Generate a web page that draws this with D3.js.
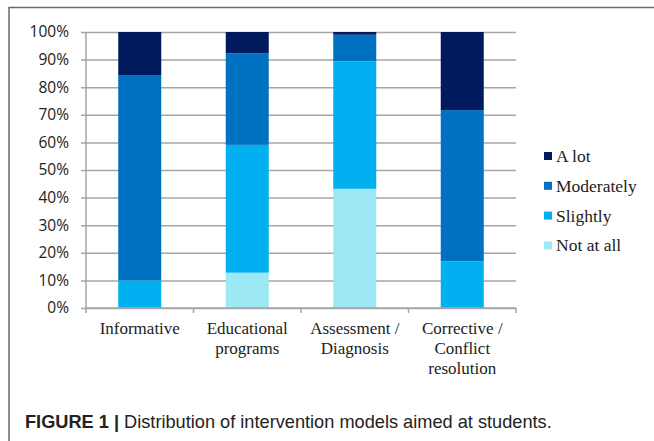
<!DOCTYPE html>
<html>
<head>
<meta charset="utf-8">
<script src="https://cdn.jsdelivr.net/npm/d3@7"></script>
<style>
  body { margin: 0; background: #fff; }
  .tick text { font-family: "Open Sans", sans-serif; font-size: 15.5px; fill: #222; }
  .cat { font-family: "Liberation Serif", serif; font-size: 17px; fill: #222; }
  .leg { font-family: "Liberation Serif", serif; font-size: 17.5px; fill: #222; }
  .cap { font-family: "Liberation Sans", Arial, sans-serif; font-size: 18.2px; fill: #222; }
</style>
</head>
<body>
<svg id="chart" width="654" height="441"></svg>
<script>
(function () {
    // categories and series (percent of students)
    var categories = ["Informative", "Educational programs", "Assessment / Diagnosis", "Corrective / Conflict resolution"]
    var catLines = [["Informative"], ["Educational", "programs"], ["Assessment /", "Diagnosis"], ["Corrective /", "Conflict", "resolution"]]
    var seriesNames = ["Not at all", "Slightly", "Moderately", "A lot"]
    var notAtAll = [0, 12.8, 43.2, 0]
    var slightly = [10, 46.3, 46.2, 16.9]
    var moderately = [74.4, 33.2, 9.6, 54.8]
    var aLot = [15.6, 7.7, 1.0, 28.3]
    var yTicks = [0, 10, 20, 30, 40, 50, 60, 70, 80, 90, 100]
    var colors = ["#9ce8f4", "#00b0f0", "#0070c0", "#001a5e"]

    var svg = d3.select("#chart")

    // frame lines (top + left)
    svg.append("path")
        .attr("d", "M9,441 V7.5 H654")
        .attr("fill", "none")
        .attr("stroke", "#6a6a6a")
        .attr("stroke-width", 1.5)

    var left = 86, right = 516, top = 32, bottom = 308

    var x = d3.scaleBand()
        .domain(categories)
        .range([left, right])
        .paddingInner(0.6)
        .paddingOuter(0.3)

    var y = d3.scaleLinear()
        .domain([0, 100])
        .range([bottom, top])

    // build rows for stack
    var rows = categories.map(function (c, i) {
        return { cat: c, "Not at all": notAtAll[i], "Slightly": slightly[i], "Moderately": moderately[i], "A lot": aLot[i] }
    })
    var stack = d3.stack().keys(seriesNames)(rows)

    var color = d3.scaleOrdinal().domain(seriesNames).range(colors)

    // grid
    svg.append("g")
        .attr("transform", "translate(" + left + ",0)")
        .call(d3.axisLeft(y).tickValues(yTicks).tickFormat(function (d) { return d + "%" })
            .tickSize(-(right - left)).tickPadding(17))
        .call(function (g) { g.select(".domain").remove() })
        .call(function (g) {
            g.selectAll(".tick line").attr("stroke", "#a6a6a6").attr("stroke-width", 1.5).attr("x1", -5)
        })

    // bars
    svg.append("g")
        .selectAll("g")
        .data(stack)
        .join("g")
        .attr("fill", function (d) { return color(d.key) })
        .selectAll("rect")
        .data(function (d) { return d })
        .join("rect")
        .attr("x", function (d) { return x(d.data.cat) })
        .attr("y", function (d) { return y(d[1]) })
        .attr("width", x.bandwidth())
        .attr("height", function (d) { return y(d[0]) - y(d[1]) })

    // y axis line
    svg.append("line")
        .attr("x1", left).attr("x2", left)
        .attr("y1", top).attr("y2", bottom)
        .attr("stroke", "#a6a6a6").attr("stroke-width", 1.5)

    // x axis line + band ticks
    var xa = svg.append("g").attr("stroke", "#a6a6a6").attr("stroke-width", 1.5)
    xa.append("line").attr("x1", left).attr("x2", right).attr("y1", bottom).attr("y2", bottom)
    var edges = categories.map(function (c) { return x(c) - x.step() * x.paddingInner() / 2 })
    edges.push(right)
    xa.selectAll(".xt").data(edges).join("line")
        .attr("x1", function (d) { return d }).attr("x2", function (d) { return d })
        .attr("y1", bottom).attr("y2", bottom + 5)

    // category labels
    svg.append("g").selectAll("text")
        .data(categories)
        .join("text")
        .attr("class", "cat")
        .attr("text-anchor", "middle")
        .attr("x", function (d) { return x(d) + x.bandwidth() / 2 })
        .attr("y", 334)
        .each(function (d, i) {
            var t = d3.select(this)
            catLines[i].forEach(function (ln, j) {
                t.append("tspan").attr("x", x(d) + x.bandwidth() / 2).attr("dy", j === 0 ? 0 : 20).text(ln)
            })
        })

    // legend (top to bottom: A lot ... Not at all)
    var legItems = seriesNames.slice().reverse()
    var leg = svg.append("g").selectAll("g")
        .data(legItems)
        .join("g")
        .attr("transform", function (d, i) { return "translate(544," + (156 + i * 29.8) + ")" })
    leg.append("rect")
        .attr("x", 0).attr("y", -4).attr("width", 8).attr("height", 8)
        .attr("fill", function (d) { return color(d) })
    leg.append("text")
        .attr("class", "leg")
        .attr("x", 12).attr("y", 6)
        .text(function (d) { return d })

    // caption
    var cap = svg.append("text").attr("class", "cap").attr("x", 25).attr("y", 428)
    cap.append("tspan").attr("font-weight", "bold").text("FIGURE 1 | ")
    cap.append("tspan").text("Distribution of intervention models aimed at students.")
})();
</script>
</body>
</html>
